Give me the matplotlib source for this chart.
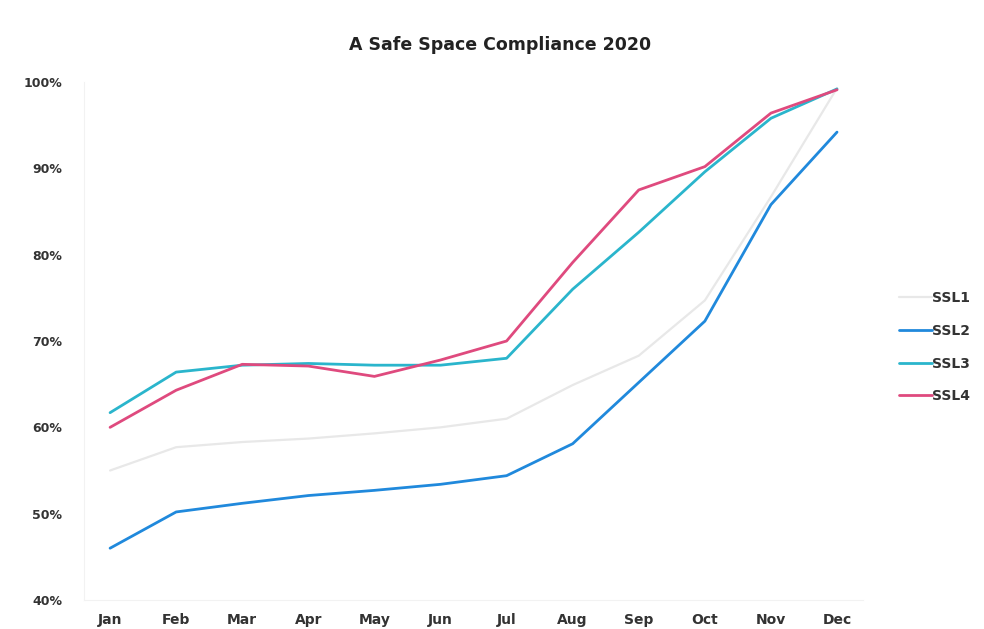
import matplotlib
matplotlib.use("Agg")
import matplotlib.pyplot as plt
from matplotlib.ticker import FuncFormatter

# monthly compliance (%) per safe space level
months = ["Jan", "Feb", "Mar", "Apr", "May", "Jun",
          "Jul", "Aug", "Sep", "Oct", "Nov", "Dec"]
ssl1 = [55.0, 57.7, 58.3, 58.7, 59.3, 60.0, 61.0, 64.9, 68.3, 74.7, 86.7, 99.3]
ssl2 = [46.0, 50.2, 51.2, 52.1, 52.7, 53.4, 54.4, 58.1, 65.2, 72.3, 85.8, 94.2]
ssl3 = [61.7, 66.4, 67.2, 67.4, 67.2, 67.2, 68.0, 76.0, 82.6, 89.6, 95.8, 99.2]
ssl4 = [60.0, 64.3, 67.3, 67.1, 65.9, 67.8, 70.0, 79.1, 87.5, 90.2, 96.4, 99.1]

series = [("SSL1", ssl1, "#e8e8e8", 1.6),
          ("SSL2", ssl2, "#2089dc", 2.0),
          ("SSL3", ssl3, "#2ab5cc", 2.0),
          ("SSL4", ssl4, "#df4a7e", 2.0)]

fig = plt.figure(figsize=(9.84, 6.29), dpi=100)
ax = fig.add_axes([0.085, 0.0461, 0.7925, 0.8235])

x = range(len(months))
for name, vals, col, lw in series:
    ax.plot(x, vals, color=col, linewidth=lw, label=name, solid_capstyle="round")

ax.set_xlim(-0.4, 11.4)
ax.set_ylim(40, 100)
ax.set_yticks(range(40, 101, 10))
ax.yaxis.set_major_formatter(FuncFormatter(lambda v, p: f"{v:.0f}%"))
ax.set_xticks(list(x))
ax.set_xticklabels(months)
ax.tick_params(length=0, labelcolor="#333333")
ax.tick_params(axis="y", pad=15.5, labelsize=9)
ax.tick_params(axis="x", pad=9, labelsize=10)
for lbl in ax.get_xticklabels() + ax.get_yticklabels():
    lbl.set_fontweight("bold")

for side in ["top", "right"]:
    ax.spines[side].set_visible(False)
for side in ["left", "bottom"]:
    ax.spines[side].set_color("#f2f2f2")

fig.text(0.508, 0.928, "A Safe Space Compliance 2020", ha="center", va="center",
         fontsize=12.5, fontweight="bold", color="#222222")

leg = fig.legend(loc="center left", bbox_to_anchor=(0.901, 0.448), frameon=False,
                 handlelength=2.4, handletextpad=0.0, labelspacing=1.35,
                 prop={"size": 10, "weight": "bold"})
for t in leg.get_texts():
    t.set_color("#333333")

fig.savefig("out.png", dpi=100)
